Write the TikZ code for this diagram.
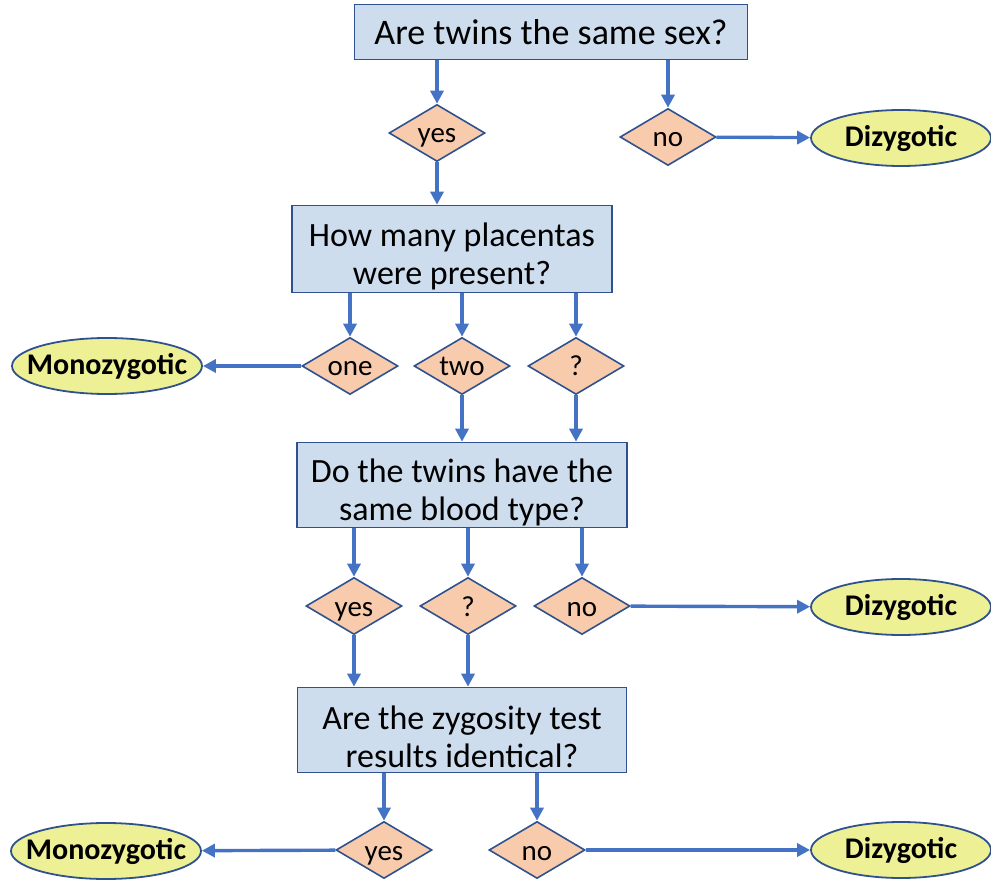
\documentclass[tikz,border=0pt]{standalone}
\usepackage{fontspec}
\setmainfont{Carlito}
\usetikzlibrary{
	arrows.meta,
	shapes.geometric,
	positioning
}
\definecolor{BoxBlue}{RGB}{206, 221, 238}
\definecolor{EdgeBlue}{RGB}{47, 82, 143}
\definecolor{ArrowBlue}{RGB}{68, 114, 196}
\definecolor{Peach}{RGB}{248, 203, 173}
\definecolor{PaleYellow}{RGB}{238, 240, 150}
\tikzset{
	question/.style={draw=EdgeBlue, line width=1.6pt, fill=BoxBlue, align=center, inner sep=0pt, font=\fontsize{34}{38}\selectfont},
	answer/.style={diamond, aspect=1.7, draw=EdgeBlue, line width=1.6pt, fill=Peach, inner sep=0pt, text height=20pt, text depth=0pt, minimum width=96pt, minimum height=57pt, font=\fontsize{29}{32}\selectfont},
	verdict/.style={ellipse, draw=EdgeBlue, line width=1.8pt, fill=PaleYellow, inner xsep=-13pt, inner ysep=0pt, minimum height=56pt, font=\bfseries\fontsize{30}{32}\selectfont},
	flow/.style={ArrowBlue, line width=3.4pt, -{Triangle[length=13pt,width=13pt]}}
}
\newcommand{\lift}{\rule{0pt}{38pt}}
\begin{document}
\begin{tikzpicture}[x=1pt, y=1pt]
		\useasboundingbox (0,0) rectangle (991,-882);
		% questions
		\node[question, minimum width=393pt, minimum height=55pt, font=\fontsize{36}{38}\selectfont] (Q1) at (551,-32) {Are twins the same sex?};
		\node[question, minimum width=320pt, minimum height=87pt] (Q2) at (452,-249) {\lift How many placentas\\were present?};
		\node[question, minimum width=330pt, minimum height=85pt] (Q3) at (462,-485) {\lift Do the twins have the\\same blood type?};
		\node[question, minimum width=329pt, minimum height=85pt] (Q4) at (462,-730) {\lift Are the zygosity test\\results identical?};
		% answers
		\node[answer] (sexyes) at (437,-133) {yes};
		\node[answer] (sexno) at (668,-137) {no};
		\node[answer] (plone) at (350,-366) {one};
		\node[answer] (pltwo) at (462,-366) {two};
		\node[answer] (plunk) at (576,-366) {?};
		\node[answer] (bldyes) at (354,-606) {yes};
		\node[answer] (bldunk) at (468,-606) {?};
		\node[answer] (bldno) at (582,-606) {no};
		\node[answer] (zygyes) at (384,-850) {yes};
		\node[answer] (zygno) at (537,-850) {no};
		% outcomes
		\node[verdict, minimum width=180pt] (DZ1) at (901,-138) {Dizygotic};
		\node[verdict, minimum width=190pt] (MZ1) at (107,-366) {Monozygotic};
		\node[verdict, minimum width=180pt] (DZ2) at (901,-607) {Dizygotic};
		\node[verdict, minimum width=190pt] (MZ2) at (106,-851) {Monozygotic};
		\node[verdict, minimum width=180pt] (DZ3) at (901,-850) {Dizygotic};
		% connectors
		\foreach \q/\a in {Q1/sexyes, Q1/sexno, Q2/plone, Q2/pltwo, Q2/plunk, Q3/bldyes, Q3/bldunk, Q3/bldno, Q4/zygyes, Q4/zygno}
		\draw[flow] (\q.south -| \a.north) -- (\a.north);
		\foreach \a/\q in {sexyes/Q2, pltwo/Q3, plunk/Q3, bldyes/Q4, bldunk/Q4}
		\draw[flow] (\a.south) -- (\a.south |- \q.north);
		\foreach \a/\v in {sexno/DZ1, plone/MZ1, bldno/DZ2, zygyes/MZ2, zygno/DZ3}
		\draw[flow] (\a) -- (\v);
\end{tikzpicture}
\end{document}
